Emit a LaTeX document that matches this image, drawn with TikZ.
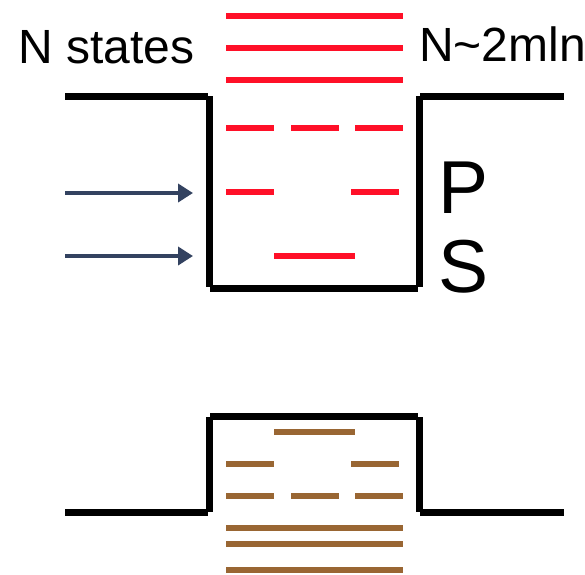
\documentclass[tikz,border=0pt]{standalone}
\usepackage{fontspec}
\setmainfont{Liberation Sans}
\usetikzlibrary{arrows.meta}
\definecolor{lvlred}{HTML}{FF1028}
\definecolor{lvlbrown}{HTML}{996633}
\definecolor{arrblue}{HTML}{334260}

\begin{document}
\begin{tikzpicture}[x=1pt, y=-1pt,
  wall/.style={line width=7pt, black},
  lvl/.style={line width=6pt, lvlred},
  blvl/.style={line width=6pt, lvlbrown},
  arr/.style={-{Triangle[length=15pt,width=18pt]}, line width=3.8pt, arrblue},
  lbl/.style={inner sep=0pt, font=\fontsize{48}{48}\selectfont},
  big/.style={inner sep=0pt, font=\fontsize{75}{75}\selectfont}
]
\useasboundingbox (0,0) rectangle (585,574);
% upper well
\draw[wall] (65,96) -- (208,96);
\draw[wall] (209,96) -- (209,287);
\draw[wall] (210,288) -- (418,288);
\draw[wall] (419,287) -- (419,96);
\draw[wall] (420,96) -- (564,96);
\draw[lvl] (226,16) -- (403,16);
\draw[lvl] (226,48) -- (403,48);
\draw[lvl] (226,80) -- (403,80);
\draw[lvl] (226,128) -- (274,128) (291,128) -- (339,128) (355,128) -- (403,128);
\draw[lvl] (226,192) -- (274,192) (351,192) -- (399,192);
\draw[lvl] (274,256) -- (355,256);
% labels
\node[lbl, anchor=base west] (nstates) at (18,63) {N states};
\node[lbl, anchor=base west] (nmln) at (419,61) {N\char`\~2mln};
\node[big, anchor=base west] (plbl) at (438,213) {P};
\node[big, anchor=base west] (slbl) at (438,292) {S};
% incoming arrows
\coordinate (pin) at (65,193);
\coordinate (pend) at (193,193);
\coordinate (sin) at (65,256);
\coordinate (send) at (193,256);
\draw[arr] (pin) -- (pend);
\draw[arr] (sin) -- (send);
% lower well
\draw[wall] (65,512) -- (208,512);
\draw[wall] (209,512) -- (209,417);
\draw[wall] (210,416) -- (418,416);
\draw[wall] (419,417) -- (419,512);
\draw[wall] (420,512) -- (564,512);
\draw[blvl] (274,432) -- (355,432);
\draw[blvl] (226,464) -- (274,464) (351,464) -- (399,464);
\draw[blvl] (226,496) -- (274,496) (291,496) -- (339,496) (355,496) -- (403,496);
\draw[blvl] (226,528) -- (403,528);
\draw[blvl] (226,544) -- (403,544);
\draw[blvl] (226,570) -- (403,570);
\end{tikzpicture}
\end{document}
